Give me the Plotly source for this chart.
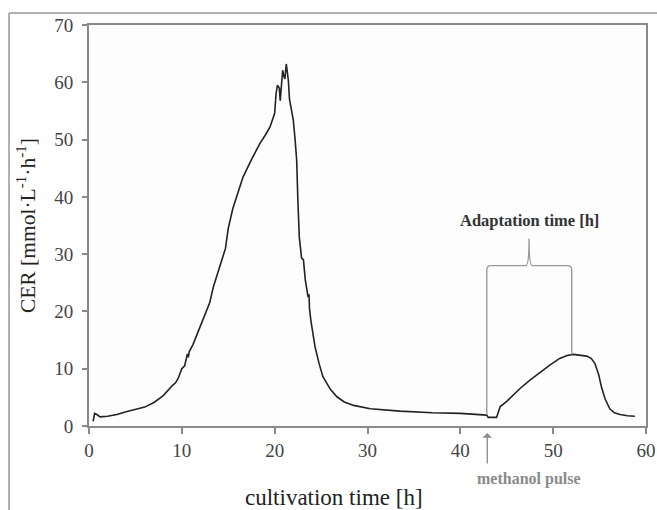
import plotly.graph_objects as go

# cultivation time [h]
time_h = [0.45, 0.6, 0.85, 1.2, 2, 3, 4, 5, 6, 7, 8, 9, 9.3, 9.6, 10, 10.3, 10.5, 10.6, 10.7, 10.8,
          11.2, 12, 13, 13.4, 14, 14.5, 14.7, 15, 15.5, 16, 16.6, 17.5, 18.4, 19.0, 19.5, 20.0,
          20.15, 20.3, 20.5, 20.6, 20.7, 20.86, 21.0, 21.1, 21.25, 21.36, 21.47, 21.6, 21.8, 22.0,
          22.2, 22.37, 22.5, 22.65, 22.9, 23.1, 23.3, 23.6, 23.7, 23.75, 23.9, 24.35, 24.8, 25.2,
          26.0, 26.7, 27.5, 28.5, 30.3, 33.5, 37, 40, 42.85, 43.0, 43.9, 44.1, 44.3, 45, 46.4,
          47.5, 48.6, 49.6, 50.7, 51.5, 52.2, 53, 53.6, 54.1, 54.5, 54.9, 55.2, 55.6, 56.1, 56.6,
          57.2, 58, 58.8]
# CER [mmol L-1 h-1]
cer = [0.8, 2.2, 2.0, 1.6, 1.7, 2.0, 2.5, 2.9, 3.3, 4.1, 5.3, 7.1, 7.5, 8.3, 10.0, 10.5, 11.8, 12.6, 12.0, 13.0,
       14.2, 17.3, 21.5, 24.3, 27.5, 30.1, 31.0, 34.5, 38.0, 40.5, 43.5, 46.5, 49.3, 50.8, 52.2, 54.6,
       58.0, 59.5, 59.0, 56.8, 58.5, 62.1, 61.0, 60.6, 63.2, 62.0, 60.4, 57.0, 55.2, 53.5,
       50.0, 46.4, 39.4, 33.0, 29.3, 29.0, 25.5, 22.5, 23.0, 20.5, 18.4, 13.8, 10.8, 8.6,
       6.4, 5.1, 4.2, 3.6, 3.0, 2.6, 2.3, 2.2, 1.9, 1.5, 1.5, 2.7, 3.4, 4.3, 6.5,
       8.0, 9.4, 10.6, 11.8, 12.3, 12.5, 12.4, 12.2, 11.8, 10.9, 9.0, 6.8, 4.7, 3.0, 2.3,
       2.0, 1.8, 1.7]

x_ticks = [0, 10, 20, 30, 40, 50, 60]
y_ticks = [0, 10, 20, 30, 40, 50, 60, 70]

pulse_time = 42.85
adapt_end = 52.0
adapt_end_cer = 12.5
pulse_cer = 1.9
bracket_level = 28.0
bracket_tip = 32.7
bracket_mid = 47.4
label_level = 35.9

serif = "Liberation Serif, Times New Roman, serif"
axis_col = "#8a8a8a"

fig = go.Figure()
fig.add_trace(go.Scatter(x=time_h, y=cer, mode="lines",
                         line=dict(color="#222222", width=1.6), showlegend=False,
                         hoverinfo="skip"))

r = 0.45
path = (f"M {pulse_time},{pulse_cer} L {pulse_time},{bracket_level-0.8} "
        f"Q {pulse_time},{bracket_level} {pulse_time+r},{bracket_level} "
        f"L {bracket_mid-0.35},{bracket_level} "
        f"Q {bracket_mid},{bracket_level} {bracket_mid},{bracket_tip} "
        f"Q {bracket_mid},{bracket_level} {bracket_mid+0.35},{bracket_level} "
        f"L {adapt_end-r},{bracket_level} "
        f"Q {adapt_end},{bracket_level} {adapt_end},{bracket_level-0.8} "
        f"L {adapt_end},{adapt_end_cer}")
fig.add_shape(type="path", path=path, xref="x", yref="y",
              line=dict(color="#9a9a9a", width=1.4))

# outer frame (top and left)
fig.add_shape(type="line", xref="paper", yref="paper", x0=-0.1436, x1=1.03, y0=1.030, y1=1.030,
              line=dict(color="#b0b0b0", width=2))
fig.add_shape(type="line", xref="paper", yref="paper", x0=-0.1436, x1=-0.1436, y0=1.030, y1=-0.25,
              line=dict(color="#b0b0b0", width=2))

fig.add_annotation(x=bracket_mid, y=label_level, xref="x", yref="y", text="<b>Adaptation time [h]</b>",
                   showarrow=False, font=dict(family=serif, size=16.5, color="#333333"))
fig.add_annotation(x=pulse_time + 0.05, y=-0.0175, xref="x", yref="paper", text="",
                   showarrow=True, ax=0, ay=32, arrowhead=1, arrowsize=1.2, arrowwidth=1.3,
                   arrowcolor="#8a8a8a")
fig.add_annotation(x=bracket_mid, y=-0.133, xref="x", yref="paper", text="<b>methanol pulse</b>",
                   xanchor="center", yanchor="middle",
                   showarrow=False, font=dict(family=serif, size=16, color="#8a8a8a"))
fig.add_annotation(x=0.44, y=-0.178, xref="paper", yref="paper", text="cultivation time [h]",
                   xanchor="center", yanchor="middle",
                   showarrow=False, font=dict(family=serif, size=23, color="#222222"))
fig.add_annotation(x=-0.112, y=0.5, xref="paper", yref="paper",
                   text="CER [mmol·L<sup>-1</sup>·h<sup>-1</sup>]", textangle=-90,
                   xanchor="center", yanchor="middle",
                   showarrow=False, font=dict(family=serif, size=21.5, color="#222222"))

fig.update_layout(
    width=657, height=510,
    margin=dict(l=89, r=11, t=25, b=84.3, autoexpand=False),
    paper_bgcolor="white", plot_bgcolor="#fdfdfd",
    font=dict(family=serif, size=18, color="#444444"),
)
fig.update_xaxes(range=[0, 60], tickvals=x_ticks, showgrid=False, zeroline=False,
                 showline=True, linecolor=axis_col, linewidth=2, mirror=True, automargin=False,
                 ticks="outside", ticklen=6, tickcolor=axis_col, tickwidth=1.5,
                 tickfont=dict(family=serif, size=19, color="#444444"))
fig.update_yaxes(range=[0, 70], tickvals=y_ticks, showgrid=False, zeroline=False,
                 showline=True, linecolor=axis_col, linewidth=2, mirror=True, automargin=False,
                 ticks="outside", ticklen=5, tickcolor=axis_col, tickwidth=1.5,
                 ticklabelstandoff=5,
                 tickfont=dict(family=serif, size=19, color="#444444"))

fig.write_html("out.html", config={"displayModeBar": False},
               post_script="document.body.style.margin='0px';document.body.style.overflow='hidden';")
